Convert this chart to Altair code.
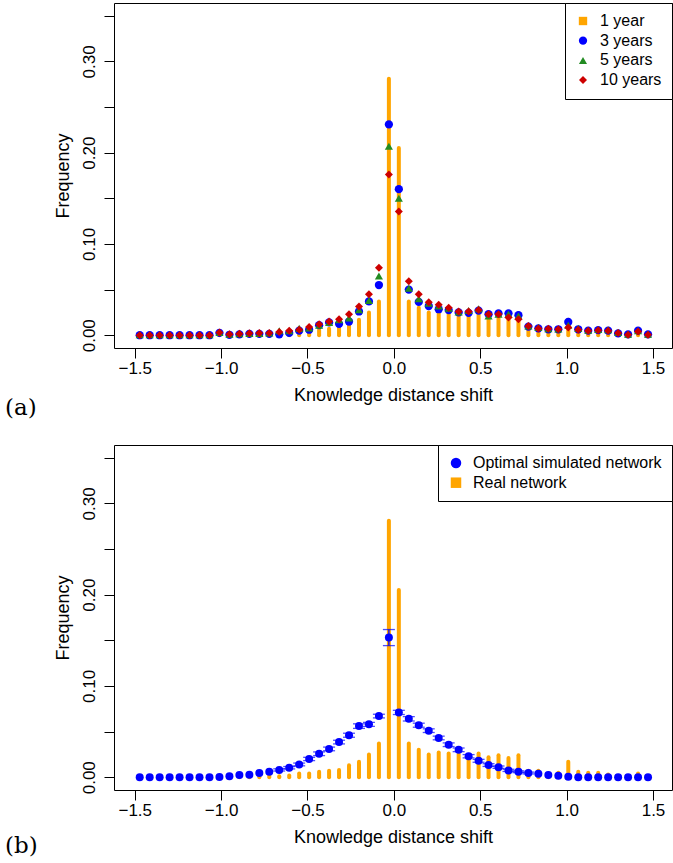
import altair as alt
import pandas as pd

FONT = "Liberation Sans"
SERIF = "DejaVu Serif"
ORANGE = "#FFA500"
BLUE = "#0000FF"
GREEN = "#228B22"
RED = "#CD0000"

# bin centres (52 bins between -1.5 and 1.5)
x_centers = [-1.4712, -1.4135, -1.3558, -1.2981, -1.2404, -1.1827, -1.1250, -1.0673,
             -1.0096, -0.9519, -0.8942, -0.8365, -0.7788, -0.7212, -0.6635, -0.6058,
             -0.5481, -0.4904, -0.4327, -0.3750, -0.3173, -0.2596, -0.2019, -0.1442,
             -0.0865, -0.0288, 0.0288, 0.0865, 0.1442, 0.2019, 0.2596, 0.3173,
             0.3750, 0.4327, 0.4904, 0.5481, 0.6058, 0.6635, 0.7212, 0.7788,
             0.8365, 0.8942, 0.9519, 1.0096, 1.0673, 1.1250, 1.1827, 1.2404,
             1.2981, 1.3558, 1.4135, 1.4712]

# real network / 1 year (bars)
real_1y = [0.0, 0.0, 0.0, 0.0, 0.0, 0.0, 0.0, 0.0,
           0.001, 0.0003, 0.001, 0.001, 0.001, 0.0015, 0.001, 0.002,
           0.004, 0.004, 0.006, 0.007, 0.008, 0.013, 0.017, 0.025,
           0.037, 0.281, 0.205, 0.037, 0.030, 0.025, 0.027, 0.026,
           0.025, 0.023, 0.026, 0.022, 0.024, 0.021, 0.024, 0.007,
           0.007, 0.004, 0.005, 0.017, 0.006, 0.005, 0.005, 0.003,
           0.001, 0.001, 0.004, 0.001]

years_3 = [0.0, 0.0, 0.0, 0.0, 0.0, 0.0, 0.0, 0.0,
           0.0025, 0.0005, 0.001, 0.0015, 0.0015, 0.0015, 0.001, 0.0025,
           0.005, 0.006, 0.011, 0.014, 0.0125, 0.015, 0.026, 0.037,
           0.055, 0.231, 0.160, 0.050, 0.0365, 0.032, 0.0285, 0.0275,
           0.025, 0.0245, 0.027, 0.023, 0.024, 0.024, 0.022, 0.0095,
           0.0075, 0.0065, 0.0065, 0.0145, 0.0065, 0.005, 0.0055, 0.005,
           0.002, 0.001, 0.005, 0.001]

years_5 = [0.0005, 0.0005, 0.0005, 0.0005, 0.0005, 0.0005, 0.0005, 0.0005,
           0.003, 0.001, 0.0015, 0.002, 0.002, 0.0025, 0.005, 0.005,
           0.0075, 0.008, 0.011, 0.014, 0.017, 0.019, 0.028, 0.038,
           0.065, 0.207, 0.150, 0.0515, 0.040, 0.035, 0.032, 0.0295,
           0.0255, 0.027, 0.029, 0.021, 0.023, 0.023, 0.021, 0.010,
           0.0085, 0.007, 0.0068, 0.011, 0.0075, 0.0055, 0.0062, 0.006,
           0.003, 0.001, 0.005, 0.001]

years_10 = [0.0, 0.0, 0.0, 0.0, 0.0, 0.0, 0.0, 0.0,
            0.003, 0.001, 0.0015, 0.0022, 0.0025, 0.0025, 0.0035, 0.005,
            0.006, 0.009, 0.012, 0.015, 0.0175, 0.023, 0.0315, 0.045,
            0.074, 0.176, 0.1355, 0.059, 0.045, 0.036, 0.0335, 0.030,
            0.026, 0.026, 0.0275, 0.023, 0.023, 0.0195, 0.0175, 0.010,
            0.0075, 0.007, 0.0065, 0.0085, 0.006, 0.005, 0.0055, 0.005,
            0.0025, 0.0005, 0.004, 0.0005]

optimal = [0.0, 0.0, 0.0, 0.0, 0.0, 0.0, 0.0, 0.0,
           0.0002, 0.001, 0.0024, 0.0027, 0.0046, 0.006, 0.008, 0.0104,
           0.014, 0.020, 0.0257, 0.031, 0.0385, 0.046, 0.056, 0.058,
           0.067, 0.153, 0.071, 0.064, 0.057, 0.051, 0.043, 0.0356,
           0.030, 0.023, 0.018, 0.0133, 0.011, 0.0075, 0.006, 0.0046,
           0.0038, 0.0024, 0.0016, 0.0005, 0.0, 0.0, 0.0, 0.0,
           0.0, 0.0, 0.0, 0.0]

optimal_err = [0.0, 0.0, 0.0, 0.0, 0.0, 0.0, 0.0, 0.0,
               0.0, 0.0, 0.0, 0.0, 0.0, 0.0, 0.0012, 0.0013,
               0.0015, 0.0018, 0.002, 0.002, 0.002, 0.0022, 0.0025, 0.0022,
               0.002, 0.0088, 0.0023, 0.0024, 0.0022, 0.002, 0.002, 0.002,
               0.002, 0.0018, 0.0016, 0.0015, 0.0013, 0.0012, 0.001, 0.001,
               0.0, 0.0, 0.0, 0.0, 0.0, 0.0, 0.0, 0.0,
               0.0, 0.0, 0.0, 0.0]

series_a = ["1 year", "3 years", "5 years", "10 years"]
series_b = ["Optimal simulated network", "Real network"]
x_ticks = [-1.5, -1.0, -0.5, 0.0, 0.5, 1.0, 1.5]
y_ticks = [0.0, 0.05, 0.10, 0.15, 0.20, 0.25, 0.30, 0.35]

PLOT_W = 558
PLOT_H = 345

xs = alt.Scale(domain=[-1.62, 1.61], nice=False, zero=False)
ys = alt.Scale(domain=[-0.014, 0.364], nice=False, zero=False)

x_axis = alt.Axis(values=x_ticks, format=".1f", title="Knowledge distance shift",
                  labelPadding=2, titlePadding=10, labelOverlap=False)
y_axis = alt.Axis(values=y_ticks, title="Frequency",
                  labelExpr="round(datum.value*100) % 10 == 0 ? format(datum.value, '.2f') : ''",
                  labelAngle=270, labelAlign="center", labelBaseline="bottom",
                  labelPadding=6, titlePadding=8, labelOverlap=False)

bars_df = pd.DataFrame({"x": x_centers, "v": real_1y})


def bar_layer():
    return alt.Chart(bars_df).mark_rule(color=ORANGE, strokeWidth=4, strokeCap="round").encode(
        x=alt.X("x:Q", scale=xs, axis=x_axis),
        y=alt.Y("v:Q", scale=ys, axis=y_axis),
        y2=alt.datum(0),
    )


def label_layer(txt, yy):
    return alt.Chart(pd.DataFrame({"lab": [txt]})).mark_text(
        font=SERIF, fontSize=23, align="left", baseline="middle", color="black"
    ).encode(x=alt.value(-109), y=alt.value(yy), text="lab:N")


legend_common = dict(title=None, orient="top-right", offset=0, strokeColor="black",
                     fillColor="white", padding=10, labelFontSize=16, labelFont=FONT,
                     labelColor="black", symbolSize=110, symbolStrokeWidth=0,
                     rowPadding=3.7, labelOffset=9, labelLimit=0)

# ---- panel (a)
rows = []
for name, vals, order in [("3 years", years_3, 1), ("5 years", years_5, 2), ("10 years", years_10, 3)]:
    for xv, vv in zip(x_centers, vals):
        rows.append({"x": xv, "v": vv, "series": name, "ord": order})
pts_a = pd.DataFrame(rows)

points_a = alt.Chart(pts_a).mark_point(filled=True, opacity=1).encode(
    x=alt.X("x:Q", scale=xs),
    y=alt.Y("v:Q", scale=ys),
    color=alt.Color("series:N", scale=alt.Scale(domain=series_a, range=[ORANGE, BLUE, GREEN, RED]),
                    legend=alt.Legend(**legend_common)),
    shape=alt.Shape("series:N", scale=alt.Scale(domain=series_a,
                                                range=["square", "circle", "triangle-up", "diamond"]),
                    legend=alt.Legend(**legend_common)),
    size=alt.Size("series:N", scale=alt.Scale(domain=series_a, range=[70, 64, 72, 46]), legend=None),
    order=alt.Order("ord:Q"),
)

panel_a = alt.layer(bar_layer(), points_a, label_layer("(a)", 405)).properties(width=PLOT_W, height=PLOT_H)

# ---- panel (b)
opt_df = pd.DataFrame({"x": x_centers, "v": optimal, "err": optimal_err,
                       "series": [series_b[0]] * len(x_centers)})
opt_df["lo"] = opt_df["v"] - opt_df["err"]
opt_df["hi"] = opt_df["v"] + opt_df["err"]
err_df = opt_df[opt_df["err"] > 0]

err_rule = alt.Chart(err_df).mark_rule(color=BLUE, strokeWidth=1.3).encode(
    x=alt.X("x:Q", scale=xs), y=alt.Y("lo:Q", scale=ys), y2="hi:Q")
cap_lo = alt.Chart(err_df).mark_tick(color=BLUE, orient="horizontal", size=12, thickness=1.3).encode(
    x=alt.X("x:Q", scale=xs), y=alt.Y("lo:Q", scale=ys))
cap_hi = alt.Chart(err_df).mark_tick(color=BLUE, orient="horizontal", size=12, thickness=1.3).encode(
    x=alt.X("x:Q", scale=xs), y=alt.Y("hi:Q", scale=ys))

points_b = alt.Chart(opt_df).mark_point(filled=True, opacity=1, size=64).encode(
    x=alt.X("x:Q", scale=xs),
    y=alt.Y("v:Q", scale=ys),
    color=alt.Color("series:N", scale=alt.Scale(domain=series_b, range=[BLUE, ORANGE]),
                    legend=alt.Legend(**legend_common)),
    shape=alt.Shape("series:N", scale=alt.Scale(domain=series_b, range=["circle", "square"]),
                    legend=alt.Legend(**legend_common)),
)

panel_b = alt.layer(bar_layer(), err_rule, cap_lo, cap_hi, points_b, label_layer("(b)", 401)).properties(
    width=PLOT_W, height=PLOT_H)

chart = alt.vconcat(panel_a, panel_b, spacing=23).resolve_scale(
    color="independent", shape="independent", size="independent"
).resolve_legend(color="independent", shape="independent").properties(
    padding={"left": 4, "top": 2, "right": 0, "bottom": 2}
).configure_view(stroke="black", strokeWidth=1).configure_axis(
    labelFont=FONT, titleFont=FONT, labelColor="black", titleColor="black",
    tickColor="black", tickWidth=1, tickSize=10, domain=False, grid=False,
    labelFontSize=17, titleFontSize=18, titleFontWeight="normal"
)

chart.save("out.html", embed_options={"renderer": "svg", "actions": False})
